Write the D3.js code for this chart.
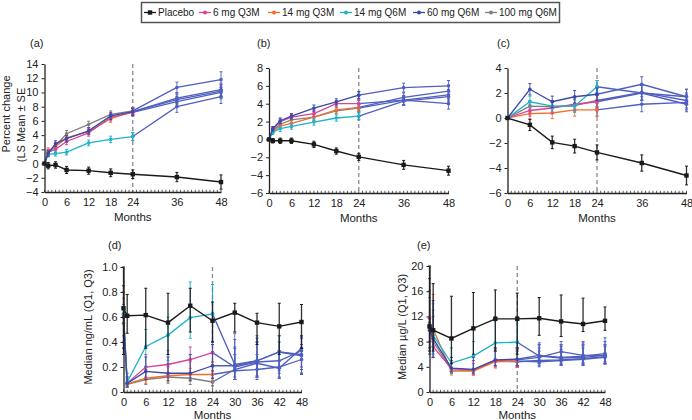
<!DOCTYPE html>
<html>
<head>
<meta charset="utf-8">
<script src="https://cdn.jsdelivr.net/npm/d3@7"></script>
<style>
body { margin: 0; background: #fff; }
text { font-family: "Liberation Sans", Arial, sans-serif; }
</style>
</head>
<body>
<svg id="chart" width="692" height="420"></svg>
<script>
var groups = ["Placebo", "6 mg Q3M", "14 mg Q3M", "14 mg Q6M", "60 mg Q6M", "100 mg Q6M"];
var colors = ["#1a1a1a", "#d6449a", "#f0702e", "#1db3c9", "#3a48a8", "#808080"];
var extColor = "#4f5fbf"; // everyone after month 24

// (a) lumbar spine, LS mean % change +- SE
var monthsA = [0, 1, 3, 6, 12, 18, 24, 36, 48];
var meanA = [
	[0, -0.3, -0.2, -0.9, -1.0, -1.3, -1.5, -1.9, -2.6],
	[0, 1.6, 2.0, 3.1, 4.3, 6.5, 7.2, 8.7, 10.0],
	[0, 1.8, 2.4, 3.6, 4.5, 6.3, 7.3, 9.0, 10.2],
	[0, 1.3, 1.4, 1.6, 2.9, 3.4, 3.8, 8.0, 9.4],
	[0, 1.4, 2.8, 3.5, 4.6, 6.7, 7.3, 9.2, 10.4],
	[0, 1.5, 2.5, 4.2, 5.5, 6.9, 7.4, 10.7, 11.8]
];
var seA = [
	[0, 0.45, 0.45, 0.5, 0.5, 0.55, 0.6, 0.65, 1.0],
	[0, 0.4, 0.4, 0.45, 0.45, 0.5, 0.5, 0.75, 0.9],
	[0, 0.4, 0.4, 0.45, 0.45, 0.5, 0.5, 0.75, 0.9],
	[0, 0.35, 0.35, 0.4, 0.4, 0.45, 0.55, 0.8, 0.95],
	[0, 0.4, 0.4, 0.45, 0.45, 0.5, 0.5, 0.75, 0.9],
	[0, 0.4, 0.4, 0.45, 0.45, 0.5, 0.5, 0.75, 1.1]
];

// (b) total hip
var monthsB = [0, 1, 3, 6, 12, 18, 24, 36, 48];
var meanB = [
	[0, -0.15, -0.15, -0.15, -0.55, -1.3, -1.95, -2.85, -3.5],
	[0, 1.1, 2.0, 2.5, 2.9, 4.0, 4.0, 4.4, 4.0],
	[0, 0.9, 1.5, 1.8, 2.5, 3.3, 3.6, 4.7, 5.4],
	[0, 0.8, 1.2, 1.45, 1.95, 2.4, 2.6, 4.3, 4.8],
	[0, 1.2, 2.1, 2.6, 3.5, 4.2, 4.95, 5.8, 6.0],
	[0, 1.0, 1.7, 2.2, 2.5, 3.2, 3.5, 4.4, 5.0]
];
var seB = [
	[0, 0.25, 0.3, 0.3, 0.35, 0.35, 0.4, 0.5, 0.5],
	[0, 0.25, 0.3, 0.3, 0.35, 0.35, 0.4, 0.5, 0.6],
	[0, 0.25, 0.3, 0.3, 0.35, 0.35, 0.4, 0.5, 0.6],
	[0, 0.25, 0.3, 0.3, 0.35, 0.35, 0.4, 0.5, 0.6],
	[0, 0.25, 0.3, 0.3, 0.35, 0.35, 0.4, 0.5, 0.6],
	[0, 0.25, 0.3, 0.3, 0.35, 0.35, 0.4, 0.5, 0.6]
];

// (c) distal radius
var monthsC = [0, 6, 12, 18, 24, 36, 48];
var meanC = [
	[0, -0.55, -1.95, -2.25, -2.75, -3.6, -4.6],
	[0, 0.6, 0.8, 1.1, 1.3, 2.0, 1.1],
	[0, 0.35, 0.4, 0.65, 0.65, 1.1, 1.25],
	[0, 1.3, 0.95, 0.95, 2.5, 2.0, 1.7],
	[0, 2.3, 1.3, 1.7, 1.9, 2.7, 1.7],
	[0, 0.95, 0.9, 1.0, 1.4, 2.05, 1.4]
];
var seC = [
	[0, 0.45, 0.5, 0.55, 0.6, 0.65, 0.75],
	[0, 0.45, 0.45, 0.5, 0.5, 0.6, 0.6],
	[0, 0.45, 0.45, 0.5, 0.5, 0.6, 0.6],
	[0, 0.45, 0.45, 0.5, 0.5, 0.6, 0.6],
	[0, 0.45, 0.45, 0.5, 0.5, 0.6, 0.6],
	[0, 0.45, 0.45, 0.5, 0.5, 0.6, 0.6]
];

// (d) median ng/mL, Q1..Q3
var monthsD = [0, 1, 6, 12, 18, 24, 30, 36, 42, 48];
var medD = [
	[0.67, 0.61, 0.615, 0.555, 0.69, 0.57, 0.635, 0.555, 0.525, 0.56],
	[0.62, 0.07, 0.20, 0.22, 0.26, 0.315, 0.20, 0.24, 0.25, 0.33],
	[0.62, 0.065, 0.11, 0.13, 0.14, 0.14, 0.17, 0.18, 0.20, 0.26],
	[0.63, 0.08, 0.365, 0.455, 0.595, 0.625, 0.22, 0.25, 0.32, 0.30],
	[0.60, 0.07, 0.165, 0.15, 0.15, 0.21, 0.21, 0.25, 0.32, 0.29],
	[0.55, 0.06, 0.10, 0.12, 0.11, 0.08, 0.18, 0.23, 0.19, 0.35]
];
var q1D = [
	[0.30, 0.47, 0.35, 0.30, 0.48, 0.40, 0.48, 0.38, 0.30, 0.35],
	[0.40, 0.04, 0.12, 0.12, 0.15, 0.17, 0.10, 0.12, 0.12, 0.18],
	[0.45, 0.04, 0.07, 0.08, 0.09, 0.09, 0.10, 0.10, 0.11, 0.14],
	[0.45, 0.05, 0.20, 0.25, 0.43, 0.40, 0.10, 0.12, 0.15, 0.15],
	[0.35, 0.04, 0.10, 0.09, 0.09, 0.11, 0.12, 0.13, 0.17, 0.15],
	[0.35, 0.04, 0.06, 0.07, 0.06, 0.05, 0.10, 0.12, 0.11, 0.20]
];
var q3D = [
	[1.0, 0.78, 0.83, 0.79, 0.83, 0.72, 0.71, 0.63, 0.71, 0.70],
	[0.80, 0.12, 0.30, 0.33, 0.36, 0.40, 0.35, 0.40, 0.40, 0.44],
	[0.75, 0.10, 0.20, 0.22, 0.24, 0.24, 0.30, 0.30, 0.33, 0.38],
	[0.85, 0.15, 0.50, 0.60, 0.88, 0.86, 0.47, 0.45, 0.45, 0.45],
	[0.85, 0.12, 0.28, 0.28, 0.30, 0.38, 0.42, 0.43, 0.45, 0.43],
	[0.70, 0.10, 0.18, 0.20, 0.19, 0.17, 0.36, 0.40, 0.33, 0.45]
];

// (e) median ug/L, Q1..Q3
var monthsE = [0, 1, 6, 12, 18, 24, 30, 36, 42, 48];
var medE = [
	[10.4, 9.8, 8.5, 10.1, 11.6, 11.6, 11.7, 11.2, 10.8, 11.3],
	[11.7, 7.2, 3.7, 3.5, 5.0, 5.1, 5.5, 6.4, 5.8, 5.8],
	[11.0, 10.0, 3.3, 3.3, 4.8, 4.9, 4.8, 5.0, 5.2, 5.5],
	[10.8, 9.0, 4.6, 5.7, 7.8, 7.9, 5.7, 5.4, 5.5, 5.8],
	[9.8, 8.5, 3.8, 3.6, 5.1, 5.2, 5.8, 5.5, 5.7, 6.1],
	[10.2, 8.0, 3.5, 3.4, 4.9, 4.8, 5.0, 5.1, 5.3, 5.6]
];
var q1E = [
	[6.5, 6.5, 4.5, 6.0, 6.5, 6.0, 9.0, 8.8, 9.6, 9.8],
	[8.0, 5.5, 3.0, 2.8, 4.0, 4.0, 4.5, 4.8, 4.6, 4.6],
	[7.0, 6.0, 2.7, 2.6, 3.8, 3.9, 4.0, 4.2, 4.2, 4.4],
	[7.0, 6.0, 3.0, 3.5, 5.0, 5.0, 4.5, 4.3, 4.3, 4.5],
	[6.0, 5.5, 3.2, 3.0, 4.2, 4.2, 4.6, 4.5, 4.6, 4.8],
	[7.0, 5.5, 3.0, 2.9, 4.0, 4.0, 4.2, 4.3, 4.4, 4.5]
];
var q3E = [
	[20, 17.2, 15.2, 15.8, 16.2, 15.7, 15.0, 15.4, 14.9, 13.5],
	[16, 12, 5.0, 5.0, 7.0, 7.0, 7.5, 8.0, 7.5, 7.5],
	[16, 15.5, 4.5, 4.5, 6.5, 6.5, 6.5, 6.8, 7.0, 7.2],
	[15, 14, 7.0, 8.0, 12, 12, 7.5, 7.5, 7.8, 8.0],
	[18, 14.5, 5.5, 5.5, 7.0, 7.0, 7.8, 7.5, 8.0, 8.6],
	[15, 13, 5.0, 5.0, 6.8, 6.8, 7.0, 7.2, 7.4, 7.5]
];

var ticksABC = [0, 6, 12, 18, 24, 36, 48];
var ticksDE = [0, 6, 12, 18, 24, 30, 36, 42, 48];

var svg = d3.select("#chart");

function withSE(mean, se) {
	return {
		lo: mean.map(function(row, g) { return row.map(function(v, i) { return v - se[g][i]; }); }),
		hi: mean.map(function(row, g) { return row.map(function(v, i) { return v + se[g][i]; }); })
	};
}

function drawPanel(p) {
	var x = d3.scaleLinear().domain([0, 48]).range([p.left, p.right]);
	var y = d3.scaleLinear().domain(p.yDomain).range([p.bottom, p.top]);
	var g = svg.append("g");

	// dashed line at month 24
	g.append("line")
		.attr("x1", x(24)).attr("x2", x(24))
		.attr("y1", y(p.yDomain[1])).attr("y2", p.bottom)
		.attr("stroke", "#8a8a8a").attr("stroke-width", 1.3)
		.attr("stroke-dasharray", "4,3");

	var line = d3.line()
		.x(function(d) { return x(d.m); })
		.y(function(d) { return y(d.v); });

	var order = [5, 2, 1, 3, 4];
	var pts = function(gi) {
		return p.months.map(function(m, i) {
			return { m: m, v: p.mid[gi][i], lo: p.lo[gi][i], hi: p.hi[gi][i] };
		});
	};

	// extension phase first (all blue), then the randomized phase
	order.forEach(function(gi) {
		var d = pts(gi).filter(function(d) { return d.m >= 24; });
		drawSeries(g, d, extColor, line, x, y, false, p.barW);
	});
	order.forEach(function(gi) {
		var d = pts(gi).filter(function(d) { return d.m <= 24; });
		drawSeries(g, d, colors[gi], line, x, y, false, p.barW);
	});
	drawSeries(g, pts(0), colors[0], line, x, y, true, 1.3);

	// axes
	var xa = g.append("g")
		.attr("transform", "translate(0," + p.bottom + ")")
		.call(d3.axisBottom(x).tickValues(p.xTicks).tickSize(0).tickPadding(6).tickSizeOuter(0));
	g.append("g").selectAll("line")
		.data(d3.range(0, 49))
		.join("line")
		.attr("x1", function(d) { return x(d); })
		.attr("x2", function(d) { return x(d); })
		.attr("y1", p.bottom).attr("y2", p.bottom - 2.2)
		.attr("stroke", "#333").attr("stroke-width", 0.8);

	var ya = g.append("g")
		.attr("transform", "translate(" + p.left + ",0)")
		.call(d3.axisLeft(y).tickValues(p.yTicks).tickSize(3).tickPadding(3).tickSizeOuter(0).tickFormat(p.fmt));

	[xa, ya].forEach(function(a) {
		a.select(".domain").attr("stroke", "#222").attr("stroke-width", 1.3);
		a.selectAll(".tick line").attr("stroke", "#222");
		a.selectAll(".tick text").attr("fill", "#222").style("font-size", "11px")
			.style("font-family", "'Liberation Sans', Arial, sans-serif");
	});

	g.append("text")
		.attr("x", (p.left + p.right) / 2).attr("y", p.bottom + p.monthsDy)
		.attr("text-anchor", "middle").attr("fill", "#222")
		.style("font-size", "11.5px").text("Months");

	g.append("text")
		.attr("x", p.labelX).attr("y", p.labelY)
		.attr("fill", "#222").style("font-size", "11px").text(p.label);

	p.yLabel.forEach(function(t) {
		g.append("text")
			.attr("transform", "translate(" + t.x + "," + t.y + ") rotate(-90)")
			.attr("text-anchor", "middle").attr("dominant-baseline", "central")
			.attr("fill", "#222").style("font-size", "11px").text(t.text);
	});
}

function drawSeries(g, d, color, line, x, y, square, bw) {
	var s = g.append("g");
	var bars = d.filter(function(d) { return d.hi - d.lo > 0.0001; });
	s.selectAll(".bar").data(bars).join("line")
		.attr("x1", function(d) { return x(d.m); })
		.attr("x2", function(d) { return x(d.m); })
		.attr("y1", function(d) { return y(d.lo); })
		.attr("y2", function(d) { return y(d.hi); })
		.attr("stroke", color).attr("stroke-width", bw).attr("opacity", square ? 0.9 : 0.8);
	["lo", "hi"].forEach(function(k) {
		s.selectAll(".cap" + k).data(bars).join("line")
			.attr("x1", function(d) { return x(d.m) - 1.5; })
			.attr("x2", function(d) { return x(d.m) + 1.5; })
			.attr("y1", function(d) { return y(d[k]); })
			.attr("y2", function(d) { return y(d[k]); })
			.attr("stroke", color).attr("stroke-width", 1);
	});
	s.append("path").datum(d)
		.attr("d", line).attr("fill", "none")
		.attr("stroke", color).attr("stroke-width", square ? 1.4 : 1.3);
	if (square) {
		s.selectAll("rect").data(d).join("rect")
			.attr("x", function(d) { return x(d.m) - 2.2; })
			.attr("y", function(d) { return y(d.v) - 2.2; })
			.attr("width", 4.4).attr("height", 4.4).attr("fill", color);
	} else {
		s.selectAll("circle").data(d).join("circle")
			.attr("cx", function(d) { return x(d.m); })
			.attr("cy", function(d) { return y(d.v); })
			.attr("r", 1.8).attr("fill", color);
	}
}

var fmtInt = d3.format("d");

var eA = withSE(meanA, seA);
drawPanel({ left: 44.5, right: 221, top: 64, bottom: 192, yDomain: [-4, 14],
	yTicks: d3.range(-4, 15, 2), xTicks: ticksABC, fmt: fmtInt, months: monthsA,
	mid: meanA, lo: eA.lo, hi: eA.hi, barW: 1.1, label: "(a)", labelX: 30, labelY: 47, monthsDy: 29,
	yLabel: [{ x: 6, y: 114, text: "Percent change" }, { x: 21, y: 125, text: "(LS Mean \u00b1 SE" }] });

var eB = withSE(meanB, seB);
drawPanel({ left: 269, right: 448.5, top: 68, bottom: 193, yDomain: [-6, 8],
	yTicks: d3.range(-6, 9, 2), xTicks: ticksABC, fmt: fmtInt, months: monthsB,
	mid: meanB, lo: eB.lo, hi: eB.hi, barW: 1.1, label: "(b)", labelX: 257, labelY: 47, monthsDy: 29, yLabel: [] });

var eC = withSE(meanC, seC);
drawPanel({ left: 507.5, right: 686.5, top: 68, bottom: 193, yDomain: [-6, 4],
	yTicks: d3.range(-6, 5, 2), xTicks: ticksABC, fmt: fmtInt, months: monthsC,
	mid: meanC, lo: eC.lo, hi: eC.hi, barW: 1.1, label: "(c)", labelX: 497, labelY: 47, monthsDy: 29, yLabel: [] });

drawPanel({ left: 123.5, right: 301.5, top: 267, bottom: 392, yDomain: [0, 1],
	yTicks: [0, 0.2, 0.4, 0.6, 0.8, 1.0], xTicks: ticksDE,
	fmt: function(d) { return d === 0 ? "0" : d.toFixed(1); }, months: monthsD,
	mid: medD, lo: q1D, hi: q3D, barW: 1.1, label: "(d)", labelX: 108, labelY: 249, monthsDy: 26.5,
	yLabel: [{ x: 88, y: 327, text: "Median ng/mL (Q1, Q3)" }] });

drawPanel({ left: 429.5, right: 605, top: 266, bottom: 392, yDomain: [0, 20],
	yTicks: [0, 4, 8, 12, 16, 20], xTicks: ticksDE, fmt: fmtInt, months: monthsE,
	mid: medE, lo: q1E, hi: q3E, barW: 1.1, label: "(e)", labelX: 417, labelY: 249, monthsDy: 26.5,
	yLabel: [{ x: 402, y: 327, text: "Median \u00b5g/L (Q1, Q3)" }] });

// legend
var legX = [144, 199, 268, 340, 413, 485];
var leg = svg.append("g");
leg.append("rect")
	.attr("x", 141.5).attr("y", 2.5).attr("width", 418).attr("height", 20)
	.attr("fill", "#fff").attr("stroke", "#555").attr("stroke-width", 1.5);
groups.forEach(function(name, i) {
	var lx = legX[i];
	leg.append("line")
		.attr("x1", lx).attr("x2", lx + 12).attr("y1", 12.5).attr("y2", 12.5)
		.attr("stroke", colors[i]).attr("stroke-width", 1.3);
	if (i === 0) {
		leg.append("rect").attr("x", lx + 3.8).attr("y", 10.3).attr("width", 4.4).attr("height", 4.4).attr("fill", colors[i]);
	} else {
		leg.append("circle").attr("cx", lx + 6).attr("cy", 12.5).attr("r", 2).attr("fill", colors[i]);
	}
	leg.append("text")
		.attr("x", lx + 14).attr("y", 16)
		.attr("fill", "#222").style("font-size", "10px").text(name);
});
</script>
</body>
</html>
